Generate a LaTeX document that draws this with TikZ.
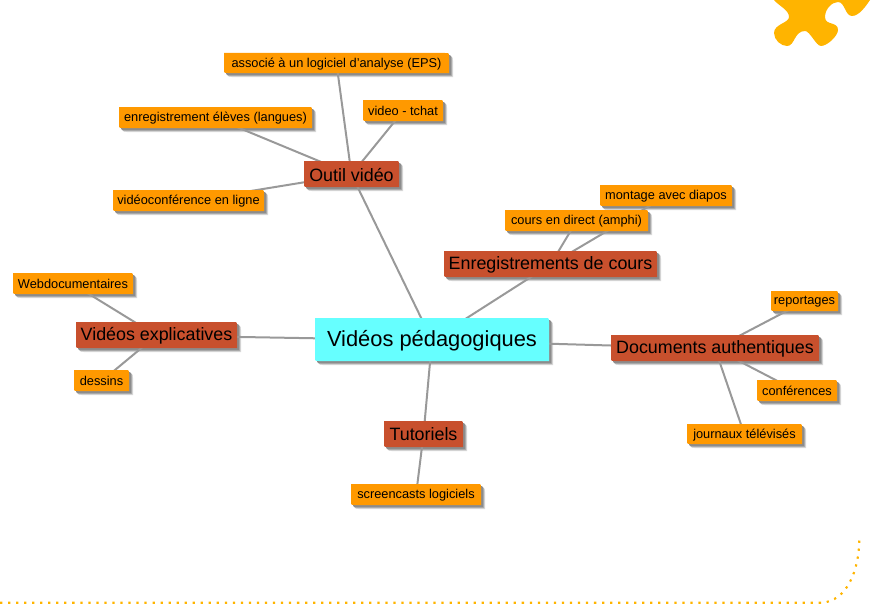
\documentclass[tikz,border=0pt]{standalone}
\usepackage{fontspec}
\setmainfont{Liberation Sans}
\usetikzlibrary{calc,backgrounds}
\definecolor{leafc}{HTML}{FF9900}
\definecolor{branchc}{HTML}{C8502D}
\definecolor{rootc}{HTML}{66FFFF}
\definecolor{puzzlec}{HTML}{FFB400}
\definecolor{linkc}{HTML}{999999}
\tikzset{
  x=0.75pt,y=-0.75pt,
  leaffill/.style={fill=leafc},
  branchfill/.style={fill=branchc},
  rootfill/.style={fill=rootc},
  leaftext/.style={font=\fontsize{9.6pt}{11pt}\selectfont,yshift=-0.5pt},
  branchtext/.style={font=\fontsize{13.4pt}{15pt}\selectfont,yshift=-0.4pt},
  roottext/.style={font=\fontsize{16.4pt}{19pt}\selectfont,yshift=-0.6pt},
  link/.style={draw=linkc,line width=1.5pt},
}
% #1 name, #2..#5 box x1 y1 x2 y2, #6 kind, #7 text
\newcommand{\mmbox}[7]{%
  \def\mmshape##1##2{(#2+##1,#3+##1) -- ({#4-4+##1},#3+##1) .. controls (#4+##1,#3+##1) .. (#4+##1,#3+4+##1) -- (#4+##1,#5+##1) -- ({#2+4+##1},#5+##1) .. controls (#2+##1,#5+##1) .. (#2+##1,{#5-4+##1}) -- cycle}%
  \begin{pgfonlayer}{background}
  \fill[black!15] \mmshape{4}{};
  \fill[black!32] \mmshape{3}{};
  \fill[black!45] \mmshape{2}{};
  \end{pgfonlayer}
  \fill[#6fill] \mmshape{0}{};
  \node[#6text,inner sep=0pt,text=black] (#1) at ($(#2,#3)!.5!(#4,#5)$) {#7};
}
\begin{document}
\begin{tikzpicture}
\useasboundingbox (0,0) rectangle (887,610);
% puzzle piece
\fill[puzzlec] (774,0) .. controls (779,6) and (789,10) .. (789,17)
  .. controls (789,23) and (774,24) .. (774,33)
  .. controls (774,40) and (781,46) .. (787,46)
  .. controls (795,46) and (794,31) .. (805,31)
  .. controls (810,31) and (816,46) .. (821,46)
  .. controls (827,46) and (838,36) .. (838,30)
  .. controls (838,21) and (825,26) .. (825,17)
  .. controls (825,9) and (832,2) .. (838,2)
  .. controls (845,2) and (845,16) .. (852,16)
  .. controls (859,16) and (866,6) .. (870,0) -- cycle;
% dotted border
\coordinate (dotA) at (0,602.7);
\coordinate (dotB) at (822,602.7);
\coordinate (dotC) at (859.3,538);
\draw[puzzlec,line width=1.6pt,dash pattern=on 1.7pt off 4.32pt] (dotA) -- (dotB) .. controls (846,601) and (859.3,572) .. (dotC);
% boxes
\mmbox{root}{315}{318}{549}{361}{root}{Vidéos pédagogiques}
\mmbox{outil}{304}{161}{399}{187}{branch}{Outil vidéo}
\mmbox{enr}{444}{251}{657}{277}{branch}{Enregistrements de cours}
\mmbox{doc}{611}{335}{819}{361}{branch}{Documents authentiques}
\mmbox{tuto}{384}{421}{463}{447}{branch}{Tutoriels}
\mmbox{expl}{76}{322}{237}{348}{branch}{Vidéos explicatives}
\mmbox{eps}{224}{53}{449}{73}{leaf}{associé à un logiciel d'analyse (EPS)}
\mmbox{tchat}{363}{100}{443}{121}{leaf}{video - tchat}
\mmbox{lang}{119}{107}{312}{128}{leaf}{enregistrement élèves (langues)}
\mmbox{visio}{113}{190}{264}{211}{leaf}{vidéoconférence en ligne}
\mmbox{diapo}{600}{185}{732}{206}{leaf}{montage avec diapos}
\mmbox{amphi}{505}{210}{648}{231}{leaf}{cours en direct (amphi)}
\mmbox{webdoc}{13}{273}{133}{294}{leaf}{Webdocumentaires}
\mmbox{dessins}{74}{370}{129}{391}{leaf}{dessins}
\mmbox{screen}{351}{484}{481}{505}{leaf}{screencasts logiciels}
\mmbox{report}{771}{291}{838}{311}{leaf}{reportages}
\mmbox{conf}{757}{380}{837}{401}{leaf}{conférences}
\mmbox{jt}{687}{424}{802}{444}{leaf}{journaux télévisés}
% connectors
\begin{pgfonlayer}{background}
\draw[link] (root.center) -- (outil.center);
\draw[link] (root.center) -- (enr.center);
\draw[link] (root.center) -- (doc.center);
\draw[link] (root.center) -- (tuto.center);
\draw[link] (root.center) -- (expl.center);
\draw[link] (outil.center) -- (eps.center);
\draw[link] (outil.center) -- (tchat.center);
\draw[link] (outil.center) -- (lang.center);
\draw[link] (outil.center) -- (visio.center);
\draw[link] (enr.center) -- (diapo.center);
\draw[link] (enr.center) -- (amphi.center);
\draw[link] (expl.center) -- (webdoc.center);
\draw[link] (expl.center) -- (dessins.center);
\draw[link] (tuto.center) -- (screen.center);
\draw[link] (doc.center) -- (report.center);
\draw[link] (doc.center) -- (conf.center);
\draw[link] (doc.center) -- (jt.center);
\end{pgfonlayer}
\end{tikzpicture}
\end{document}
